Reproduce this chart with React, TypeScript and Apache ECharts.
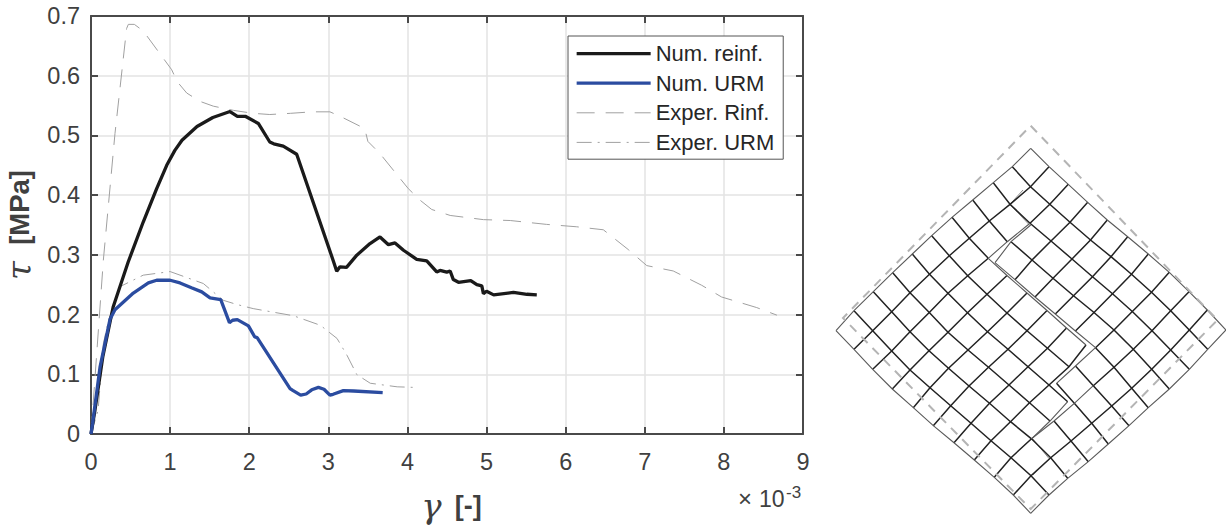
import React, { useEffect, useRef } from "react";
import * as echarts from "echarts";

const numReinf = [[0,0],[0.05,0.04],[0.15,0.13],[0.28,0.2127],[0.47,0.288],[0.66,0.355],[0.83,0.411],[0.957,0.45],[1.06,0.475],[1.15,0.492],[1.34,0.515],[1.54,0.53],[1.757,0.54],[1.85,0.532],[1.95,0.532],[2.115,0.52],[2.26,0.489],[2.31,0.486],[2.43,0.482],[2.6,0.4685],[3.06,0.291],[3.106,0.2725],[3.147,0.28],[3.23,0.279],[3.36,0.2995],[3.527,0.319],[3.653,0.33],[3.76,0.317],[3.843,0.32],[3.95,0.3077],[4.117,0.2926],[4.244,0.29],[4.37,0.2714],[4.412,0.274],[4.497,0.271],[4.54,0.273],[4.58,0.2586],[4.645,0.254],[4.8,0.257],[4.877,0.25],[4.94,0.248],[4.96,0.235],[5,0.239],[5.09,0.233],[5.34,0.237],[5.51,0.234],[5.635,0.233]];
const numUrm = [[0,0],[0.02,0.018],[0.114,0.112],[0.24,0.192],[0.303,0.208],[0.535,0.236],[0.725,0.253],[0.83,0.2575],[1,0.2575],[1.125,0.253],[1.27,0.245],[1.4,0.238],[1.505,0.228],[1.64,0.225],[1.75,0.1866],[1.79,0.1905],[1.85,0.1916],[1.99,0.181],[2.07,0.1625],[2.1,0.1615],[2.516,0.076],[2.55,0.073],[2.65,0.065],[2.72,0.067],[2.79,0.074],[2.875,0.078],[2.945,0.075],[3.02,0.065],[3.06,0.0665],[3.19,0.0727],[3.32,0.072],[3.687,0.0693]];
const experRinf = [[0,0],[0.156,0.291],[0.303,0.503],[0.45,0.679],[0.472,0.686],[0.548,0.686],[0.66,0.675],[1.02,0.61],[1.09,0.59],[1.21,0.571],[1.378,0.557],[1.546,0.549],[1.8,0.542],[2.05,0.537],[2.26,0.535],[2.52,0.537],[2.79,0.5395],[3.02,0.5395],[3.15,0.532],[3.46,0.5115],[3.5,0.49],[3.65,0.47],[4.01,0.411],[4.16,0.3915],[4.307,0.376],[4.54,0.366],[4.96,0.359],[5.3,0.3575],[5.76,0.351],[6.14,0.347],[6.476,0.342],[6.79,0.309],[7.025,0.282],[7.36,0.273],[7.72,0.249],[7.97,0.2295],[8.415,0.2117],[8.67,0.199]];
const experUrm = [[0,0],[0.09,0.04],[0.156,0.151],[0.22,0.19],[0.37,0.247],[0.66,0.266],[1,0.272],[1.42,0.252],[1.67,0.224],[1.84,0.217],[2.05,0.21],[2.56,0.198],[2.9,0.182],[3.11,0.16],[3.235,0.132],[3.36,0.0995],[3.53,0.085],[3.87,0.079],[4.096,0.078]];

const meshNodes = [
  [[1030.7,148.3],[1049,166.7],[1068.3,184.3],[1087.7,202.3],[1107.3,220],[1127.7,236.7],[1148.3,254],[1169.3,272.3],[1189,291.7],[1207.3,310],[1226,330]],
  [[1012.3,166.7],[1030.5,186.7],[1049.8,204.3],[1070,222.3],[1090.5,240],[1111,256.7],[1131.5,274.3],[1151.5,292.3],[1170.7,310.7],[1189.3,330],[1207.7,349.3]],
  [[993.3,182.7],[1010,204.3],[1030,223.3],[1051,241],[1072,259],[1092.5,276.7],[1112.5,293.8],[1132.3,311.5],[1152,330.7],[1170.7,350],[1189.3,369.3]],
  [[972.7,200],[989.3,221],[1007.3,241.7],[1032,260],[1053,278.3],[1073.5,295.7],[1094,312.5],[1114,330],[1133.3,349.3],[1151.7,369.3],[1169.3,389]],
  [[952,217.3],[969.3,238.3],[988.3,258.3],[1007,275.5],[1027,293],[1047,310.5],[1066.5,328],[1086,345],[1114,367.3],[1131.7,388.3],[1148.3,407.7]],
  [[931.7,235.7],[949.3,255.7],[967.7,275.7],[987,294.3],[1007,313],[1027,330.7],[1047.5,348.3],[1069,366.7],[1093.3,385.7],[1111.7,406],[1129,425.7]],
  [[912.3,254],[929.5,274.3],[948,293.3],[967.5,312.7],[987.5,331.7],[1008,349.3],[1028,366.7],[1049,385],[1067.7,401.7],[1091.7,423.3],[1108.3,444]],
  [[892.7,272.7],[910,292.7],[929.3,312.5],[948,332.3],[968,350],[988.5,367.3],[1009,385],[1029.5,402.7],[1050,421],[1071,441],[1088.3,461.7]],
  [[873.3,291.7],[891.7,311.7],[910,331.7],[929,350.7],[948.5,368.3],[969,386],[989.5,403.3],[1010.5,421.7],[1031.5,438.8],[1050.7,457.7],[1067.7,478.3]],
  [[854,310.7],[872.7,330.7],[891.7,351],[910,370],[930,387.7],[950.7,405.7],[971,423.3],[991,440.7],[1011,457.7],[1031,475.7],[1049,495]],
  [[836,330.7],[854,349.3],[872.7,369.3],[892.3,389],[913.3,407.7],[933.3,425.7],[954,442.7],[974.3,460],[994.3,477.3],[1013.3,495],[1030.7,513.3]],
];
const meshSplitNodes: Record<string, number[]> = {
  "2,2": [1030.7,225], "3,2": [1011,241.7], "4,2": [995,262.7], "4,3": [1015,279.7], "4,4": [1035,297],
  "4,5": [1055.3,314], "4,6": [1075.4,331], "4,7": [1095.5,347.7], "5,7": [1075.5,366], "6,7": [1056.5,383.3],
  "6,8": [1074.3,403.3], "7,8": [1054,421],
};
// [direction, line index, from, to, use split nodes, style class]
const meshSegments: any[] = [
  ["a",0,0,10,0,"edge"],["a",1,0,10,0,"inner"],["a",2,0,10,0,"inner"],
  ["a",3,0,2,0,"inner"],["a",3,2,10,1,"inner"],
  ["a",4,0,2,0,"inner"],["a",4,2,7,0,"crack"],["a",4,2,7,1,"crack"],["a",4,7,10,1,"inner"],
  ["a",5,0,7,0,"inner"],["a",5,7,10,1,"inner"],
  ["a",6,0,8,0,"inner"],["a",6,7,10,1,"inner"],
  ["a",7,0,8,0,"inner"],["a",7,8,10,1,"inner"],
  ["a",8,0,10,0,"inner"],["a",9,0,10,0,"inner"],["a",10,0,10,0,"edge"],
  ["b",0,0,10,0,"edge"],["b",1,0,10,0,"inner"],
  ["b",2,0,2,0,"inner"],["b",2,2,4,0,"crack"],["b",2,2,4,1,"crack"],["b",2,4,10,0,"inner"],
  ["b",3,0,4,1,"inner"],["b",3,4,10,0,"inner"],
  ["b",4,0,4,1,"inner"],["b",4,4,10,0,"inner"],
  ["b",5,0,4,1,"inner"],["b",5,4,10,0,"inner"],
  ["b",6,0,4,1,"inner"],["b",6,4,10,0,"inner"],
  ["b",7,0,4,1,"inner"],["b",7,4,6,1,"crack"],["b",7,4,10,0,"inner"],
  ["b",8,0,5,0,"inner"],["b",8,5,8,1,"crack"],["b",8,6,8,0,"crack"],["b",8,8,10,0,"inner"],
  ["b",9,0,10,0,"inner"],["b",10,0,10,0,"edge"],
];
const meshSlips = [
  [[1010,204.3],[1029,224.5]],
  [[1010,204.3],[1023,190]],
  [[1032.3,438.3],[1049,458.5]],
  [[1050.7,457.7],[1033,475]],
];
const meshUndeformed = [[1030.7,125.7],[1217.5,320],[1030.7,509],[843,318],[1030.7,125.7]];

const yTicks = ["0","0.1","0.2","0.3","0.4","0.5","0.6","0.7"];
const legendNames = ["Num. reinf.","Num. URM","Exper. Rinf.","Exper. URM"];
const legendWidths = [3.3, 3.3, 1, 1];

const FONT = "'Liberation Sans', Arial, sans-serif";
const AXIS = "#4a4a4a";
const TICKTEXT = "#404040";

function nodeAt(a: number, b: number, split: number) {
  return (split && meshSplitNodes[a + "," + b]) || meshNodes[a][b];
}
function segCoords(s: any[]) {
  const [dir, idx, from, to, split] = s;
  const out: number[][] = [];
  for (let k = from; k <= to; k++) out.push(dir === "a" ? nodeAt(idx, k, split) : nodeAt(k, idx, split));
  return out;
}
function meshSeries(cls: string, color: string, width: number, z: number) {
  return {
    type: "lines", coordinateSystem: "cartesian2d", polyline: true, xAxisIndex: 2, yAxisIndex: 2, silent: true, z,
    clip: false, lineStyle: { color, width, opacity: 1 },
    data: meshSegments.filter((s) => s[5] === cls).map((s) => ({ coords: segCoords(s) })),
  };
}

export default function App() {
  const ref = useRef<HTMLDivElement>(null);
  useEffect(() => {
    document.body.style.margin = "0";
    const chart = echarts.init(ref.current!, undefined, { renderer: "svg" });
    const boxAxis = (position: string, gridIndex = 0) => ({
      gridIndex, position, type: "value", min: 0,
      axisLine: { show: true, onZero: false, lineStyle: { color: AXIS, width: 2 } },
      axisTick: { show: true, inside: true, length: 7, lineStyle: { color: AXIS, width: 2 } },
      axisLabel: { show: false }, splitLine: { show: false },
    });
    const symbolFont = "'DejaVu Serif', serif";
    chart.setOption({
      animation: false,
      backgroundColor: "#fff",
      grid: [
        { left: 91, top: 16, width: 712, height: 418, outerBoundsMode: "none" },
        { left: 830, top: 110, width: 396, height: 410, outerBoundsMode: "none" },
      ],
      xAxis: [
        {
          gridIndex: 0, type: "value", min: 0, max: 9, interval: 1, position: "bottom",
          name: "{g|γ} {b|[-]}", nameLocation: "middle", nameGap: 57,
          nameTextStyle: { rich: {
            g: { fontFamily: symbolFont, fontSize: 34, lineHeight: 30, fontStyle: "italic", color: TICKTEXT, padding: [0, 10, 0, 9] },
            b: { fontFamily: FONT, fontSize: 27, lineHeight: 30, fontWeight: "bold", color: TICKTEXT },
          } },
          axisLine: { show: true, onZero: false, lineStyle: { color: AXIS, width: 2 } },
          axisTick: { show: true, inside: true, length: 7, lineStyle: { color: AXIS, width: 2 } },
          axisLabel: { fontFamily: FONT, fontSize: 23.5, color: TICKTEXT, margin: 16 },
          splitLine: { show: true, lineStyle: { color: "#e3e3e3", width: 1.5 } },
        },
        { ...boxAxis("top"), max: 9, interval: 1 },
        { gridIndex: 1, type: "value", min: 830, max: 1226, show: false },
      ],
      yAxis: [
        {
          gridIndex: 0, type: "value", min: 0, max: 0.7, interval: 0.1, position: "left",
          name: "{g|τ} {b|[MPa]}", nameLocation: "middle", nameGap: 51, nameRotate: 90,
          nameTextStyle: { rich: {
            g: { fontFamily: symbolFont, fontSize: 34, lineHeight: 30, fontStyle: "italic", color: TICKTEXT, padding: [0, 13, 0, 0] },
            b: { fontFamily: FONT, fontSize: 27.5, lineHeight: 30, fontWeight: "bold", color: TICKTEXT },
          } },
          axisLine: { show: true, onZero: false, lineStyle: { color: AXIS, width: 2 } },
          axisTick: { show: true, inside: true, length: 7, lineStyle: { color: AXIS, width: 2 } },
          axisLabel: {
            fontFamily: FONT, fontSize: 23.5, color: TICKTEXT, margin: 11,
            formatter: (v: number) => yTicks[Math.round(v * 10)],
          },
          splitLine: { show: true, lineStyle: { color: "#e3e3e3", width: 1.5 } },
        },
        { ...boxAxis("right"), max: 0.7, interval: 0.1 },
        { gridIndex: 1, type: "value", min: 110, max: 520, inverse: true, show: false },
      ],
      legend: {
        left: 568, top: 36, orient: "vertical", selectedMode: false,
        data: legendNames.map((name, i) => ({ name, lineStyle: { width: legendWidths[i] } })),
        itemWidth: 74, itemHeight: 24, itemGap: 7.6, padding: [6.6, 9, 5.8, 7],
        backgroundColor: "#fff", borderColor: "#555", borderWidth: 1,
        itemStyle: { opacity: 0 },
        textStyle: { fontFamily: FONT, fontSize: 22, color: "#262626" },
        z: 20,
      },
      series: [
        { name: legendNames[2], type: "line", data: experRinf, symbol: "none", z: 3, lineStyle: { color: "#a0a0a0", width: 1, type: [18, 11] } },
        { name: legendNames[3], type: "line", data: experUrm, symbol: "none", z: 3, lineStyle: { color: "#a0a0a0", width: 1, type: [15, 6, 2, 6] } },
        { name: legendNames[0], type: "line", data: numReinf, symbol: "none", z: 4, lineStyle: { color: "#1a1a1a", width: 3.3 } },
        { name: legendNames[1], type: "line", data: numUrm, symbol: "none", z: 5, lineStyle: { color: "#2b4ca0", width: 3.3 } },
        {
          type: "lines", coordinateSystem: "cartesian2d", polyline: true, xAxisIndex: 2, yAxisIndex: 2, silent: true, clip: false, z: 6,
          lineStyle: { color: "#b4b4b4", width: 2, type: [9, 7], opacity: 1 },
          data: [{ coords: meshUndeformed }],
        },
        meshSeries("inner", "#222", 1.5, 5),
        meshSeries("edge", "#5a5a5a", 1.1, 5),
        meshSeries("crack", "#5a5a5a", 1.1, 5),
        {
          type: "lines", coordinateSystem: "cartesian2d", polyline: true, xAxisIndex: 2, yAxisIndex: 2, silent: true, clip: false, z: 4,
          lineStyle: { color: "#8a8a8a", width: 1, opacity: 1 },
          data: meshSlips.map((c) => ({ coords: c })),
        },
      ],
      graphic: [
        { type: "text", x: 738, y: 486, style: { text: "×", fontFamily: FONT, fontSize: 24, fill: TICKTEXT } },
        { type: "text", x: 759, y: 487.5, style: { text: "10", fontFamily: FONT, fontSize: 23, fill: TICKTEXT } },
        { type: "text", x: 786, y: 483.5, style: { text: "-3", fontFamily: FONT, fontSize: 17, fill: TICKTEXT } },
      ],
    });
    return () => chart.dispose();
  }, []);
  return <div ref={ref} style={{ position: "absolute", left: 0, top: 0, width: 1226, height: 527 }} />;
}
